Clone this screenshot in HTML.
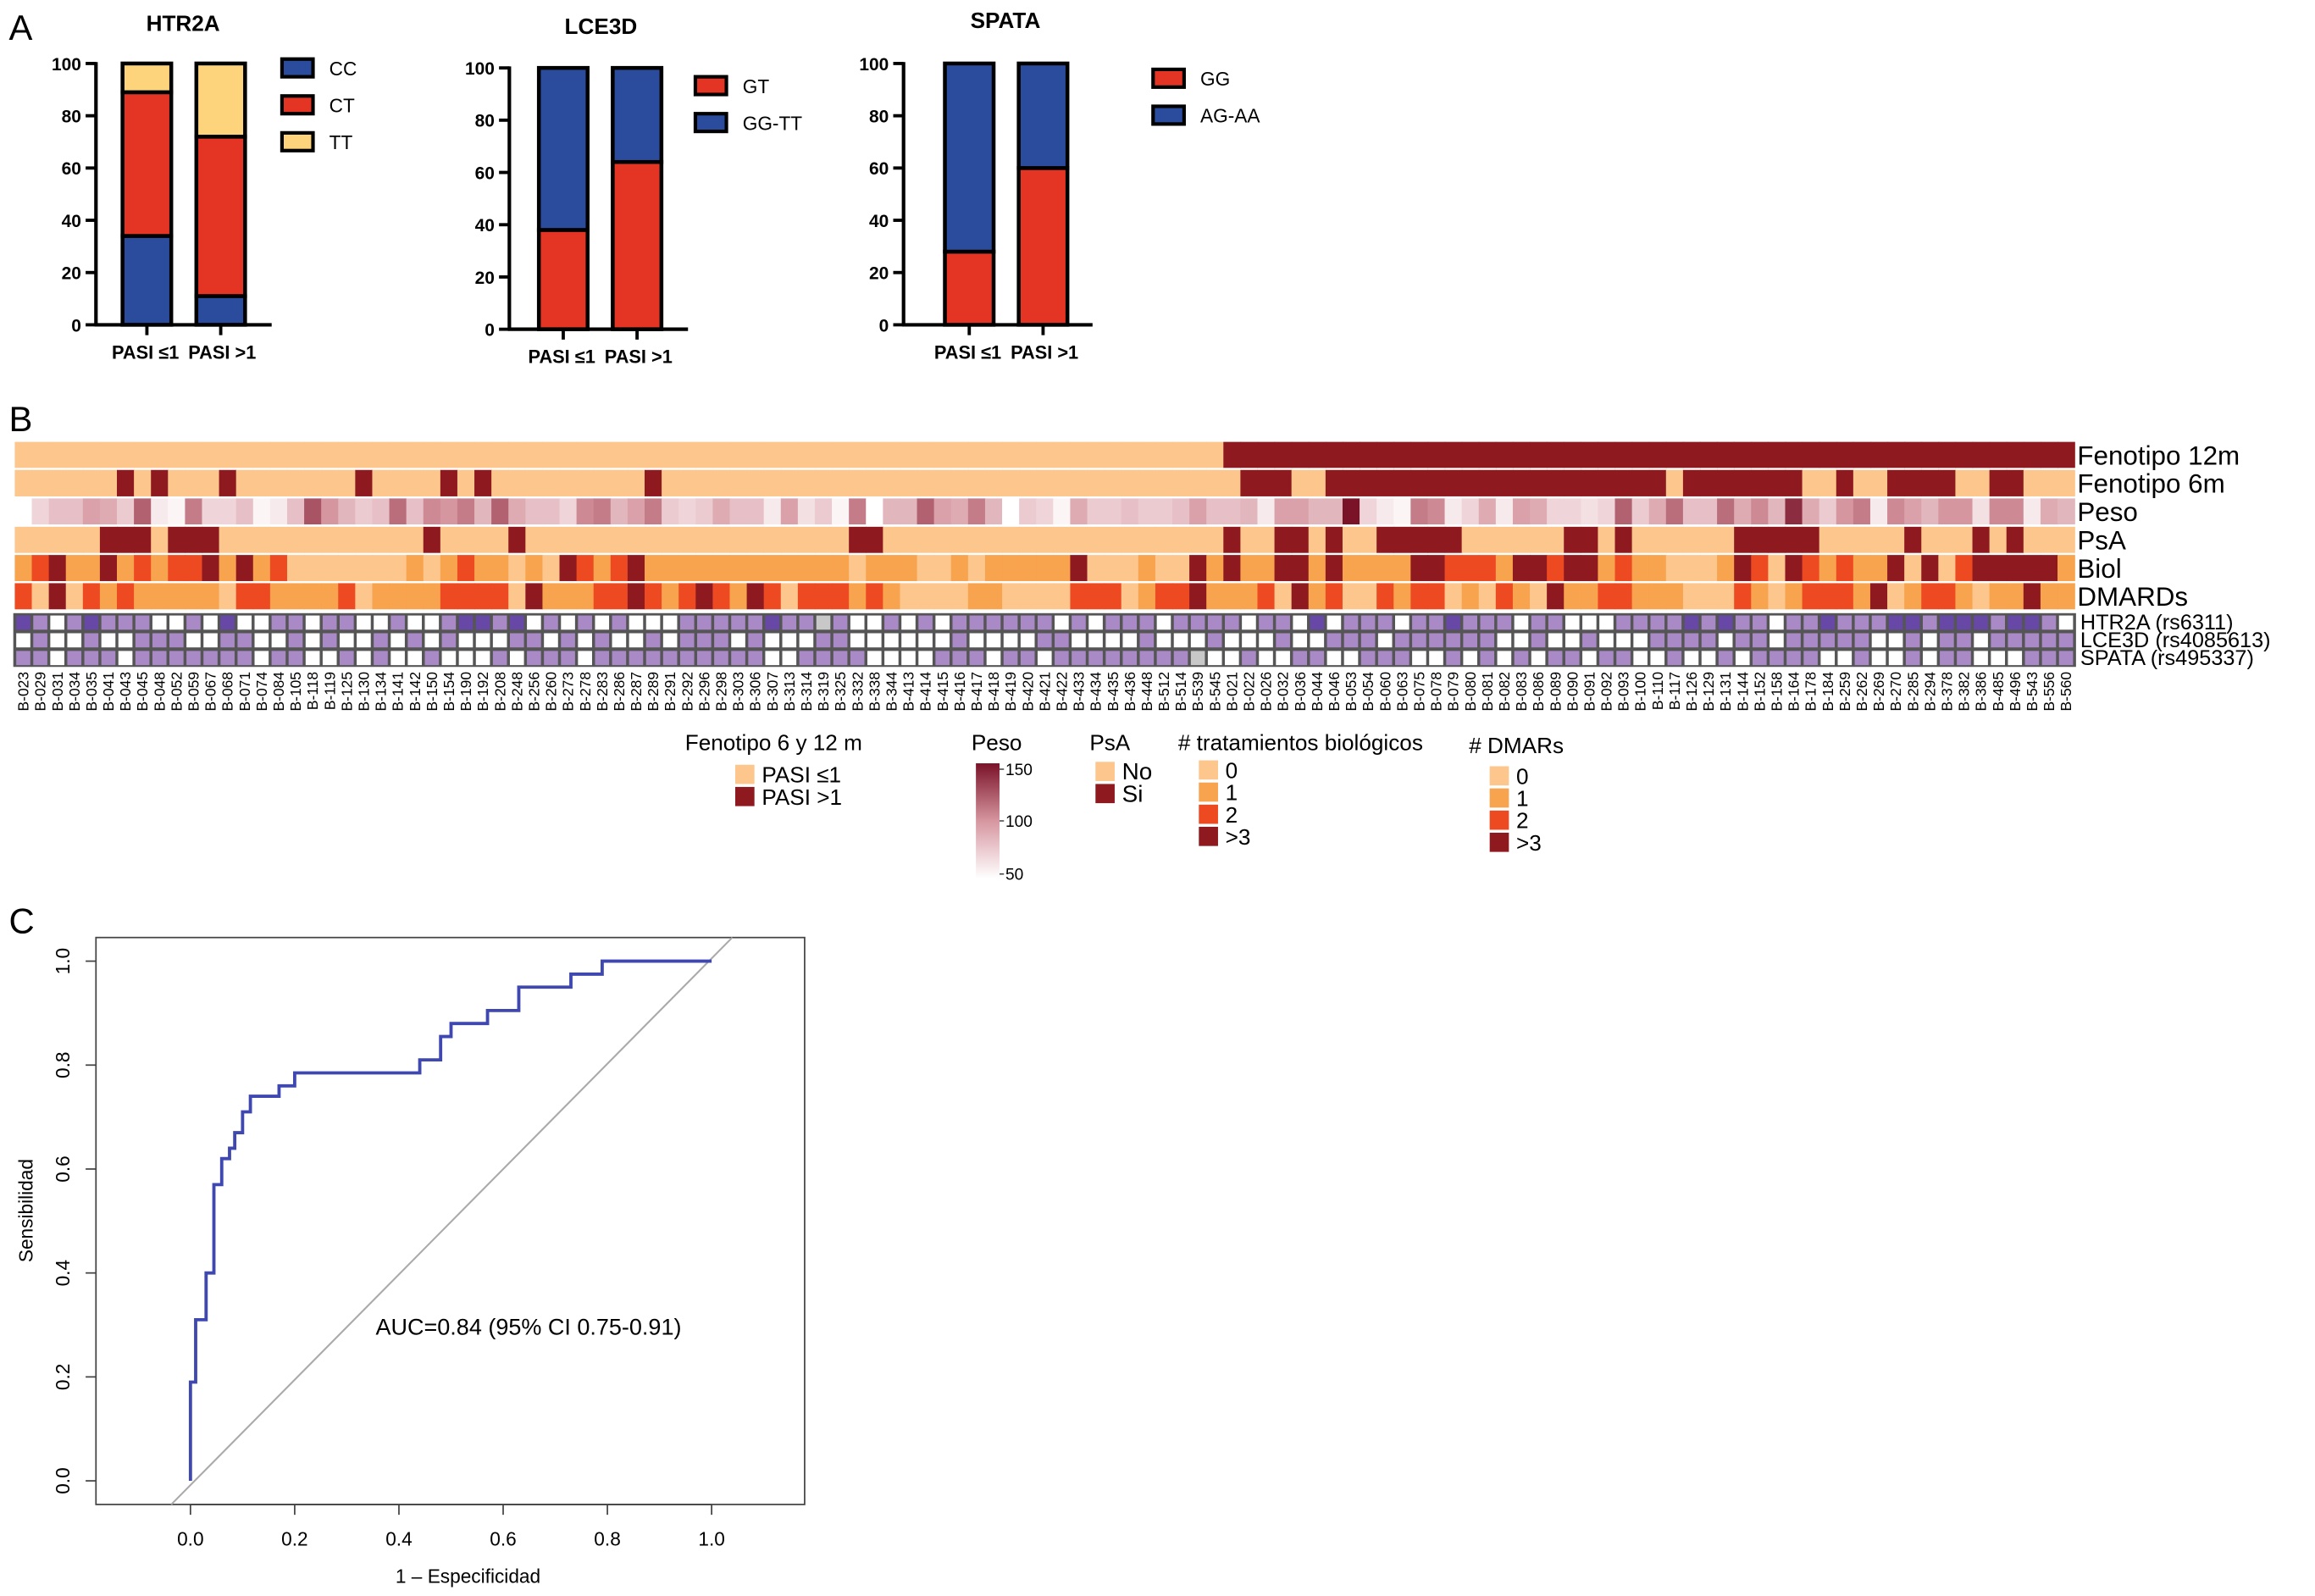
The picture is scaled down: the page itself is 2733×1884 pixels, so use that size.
<!DOCTYPE html>
<html><head><meta charset="utf-8"><style>
html,body{margin:0;padding:0;background:#fff}
svg{display:block}
text{font-family:"Liberation Sans",Arial,sans-serif}
</style></head><body>
<svg id="fig" xmlns="http://www.w3.org/2000/svg" width="2733" height="1884" viewBox="0 0 1568 1081" preserveAspectRatio="none">
<rect x="0" y="0" width="1568" height="1081" fill="#fff"/>
<text x="6" y="27" font-size="24">A</text>
<text x="6" y="292" font-size="24">B</text>
<text x="6" y="632" font-size="24">C</text>
</svg>
<script>
// ---------- Panel A data ----------
const groups = ['PASI ≤1','PASI >1'];
const htr2aCats = ['CC','CT','TT'];
const htr2aLow = [34,55,11];
const htr2aHigh = [11,61,28];
const lce3dCats = ['GT','GG-TT'];
const lce3dLow = [38,62];
const lce3dHigh = [64,36];
const spataCats = ['GG','AG-AA'];
const spataLow = [28,72];
const spataHigh = [60,40];
const yTicks = [0,20,40,60,80,100];

// ---------- Panel B data ----------
const samples = ['B-023','B-029','B-031','B-034','B-035','B-041','B-043','B-045','B-048','B-052','B-059','B-067','B-068','B-071','B-074','B-084','B-105','B-118','B-119','B-125','B-130','B-134','B-141','B-142','B-150','B-154','B-190','B-192','B-208','B-248','B-256','B-260','B-273','B-278','B-283','B-286','B-287','B-289','B-291','B-292','B-296','B-298','B-303','B-306','B-307','B-313','B-314','B-319','B-325','B-332','B-338','B-344','B-413','B-414','B-415','B-416','B-417','B-418','B-419','B-420','B-421','B-422','B-433','B-434','B-435','B-436','B-448','B-512','B-514','B-539','B-545','B-021','B-022','B-026','B-032','B-036','B-044','B-046','B-053','B-054','B-060','B-063','B-075','B-078','B-079','B-080','B-081','B-082','B-083','B-086','B-089','B-090','B-091','B-092','B-093','B-100','B-110','B-117','B-126','B-129','B-131','B-144','B-152','B-158','B-164','B-178','B-184','B-259','B-262','B-269','B-270','B-285','B-294','B-378','B-382','B-386','B-485','B-496','B-543','B-556','B-560'];
const fen12 = [0,0,0,0,0,0,0,0,0,0,0,0,0,0,0,0,0,0,0,0,0,0,0,0,0,0,0,0,0,0,0,0,0,0,0,0,0,0,0,0,0,0,0,0,0,0,0,0,0,0,0,0,0,0,0,0,0,0,0,0,0,0,0,0,0,0,0,0,0,0,0,1,1,1,1,1,1,1,1,1,1,1,1,1,1,1,1,1,1,1,1,1,1,1,1,1,1,1,1,1,1,1,1,1,1,1,1,1,1,1,1,1,1,1,1,1,1,1,1,1,1];
const fen6 = [0,0,0,0,0,0,1,0,1,0,0,0,1,0,0,0,0,0,0,0,1,0,0,0,0,1,0,1,0,0,0,0,0,0,0,0,0,1,0,0,0,0,0,0,0,0,0,0,0,0,0,0,0,0,0,0,0,0,0,0,0,0,0,0,0,0,0,0,0,0,0,0,1,1,1,0,0,1,1,1,1,1,1,1,1,1,1,1,1,1,1,1,1,1,1,1,1,0,1,1,1,1,1,1,1,0,0,1,0,0,1,1,1,1,0,0,1,1,0,0,0];
const peso = [50,70,80,80,95,90,75,120,60,55,110,70,70,80,55,60,80,125,100,85,75,80,115,80,105,100,110,85,120,90,80,80,70,105,110,85,95,110,75,70,75,90,80,80,60,95,65,75,55,110,50,85,85,120,95,90,110,85,50,75,70,55,90,75,75,80,75,75,80,95,80,80,85,60,95,95,85,85,150,70,60,55,110,105,60,70,90,60,95,90,70,70,65,70,120,75,90,115,80,80,115,90,105,85,140,90,75,100,110,60,105,95,85,100,100,65,105,105,60,90,85];
const psa = [0,0,0,0,0,1,1,1,0,1,1,1,0,0,0,0,0,0,0,0,0,0,0,0,1,0,0,0,0,1,0,0,0,0,0,0,0,0,0,0,0,0,0,0,0,0,0,0,0,1,1,0,0,0,0,0,0,0,0,0,0,0,0,0,0,0,0,0,0,0,0,1,0,0,1,1,0,1,0,0,1,1,1,1,1,0,0,0,0,0,0,1,1,0,1,0,0,0,0,0,0,1,1,1,1,1,0,0,0,0,0,1,0,0,0,1,0,1,0,0,0];
const biol = [1,2,3,1,1,3,1,2,1,2,2,3,1,3,1,2,0,0,0,0,0,0,0,1,0,1,2,1,1,0,1,0,3,2,1,2,3,1,1,1,1,1,1,1,1,1,1,1,1,0,1,1,1,0,0,1,0,1,1,1,1,1,3,0,0,0,1,0,0,3,1,3,1,1,3,3,1,3,1,1,1,1,3,3,2,2,2,1,3,3,2,3,3,1,2,1,1,0,0,0,1,3,2,0,3,2,1,2,1,1,3,0,3,0,2,3,3,3,3,3,1];
const dmards = [2,0,3,0,2,1,2,1,1,1,1,1,0,2,2,1,1,1,1,2,0,1,1,1,1,2,2,2,2,0,3,1,1,1,2,2,3,2,1,2,3,2,1,3,2,0,2,2,2,1,2,1,0,0,0,0,1,1,0,0,0,0,2,2,2,0,1,2,2,3,1,1,1,2,0,3,1,2,0,0,2,1,2,2,0,1,0,2,1,0,3,1,1,2,2,1,1,1,0,0,0,2,1,0,1,2,2,2,1,3,0,1,2,2,1,0,1,1,3,1,1];
const htr2a = [2,1,0,1,2,1,1,1,0,0,1,0,2,0,0,1,1,0,1,1,0,0,1,0,0,1,2,2,1,2,0,1,0,1,0,1,0,0,0,1,1,1,1,1,2,1,1,9,1,0,0,1,0,1,0,1,1,1,1,1,1,0,1,0,1,1,1,0,1,1,1,1,0,1,1,0,2,0,1,1,1,0,1,1,2,1,1,1,0,1,1,0,0,0,1,1,1,1,2,1,2,1,1,0,1,1,2,1,1,1,2,2,1,2,2,2,1,2,2,1,0];
const lce3d = [0,1,0,0,1,0,0,1,1,1,0,0,1,1,0,0,1,0,1,0,0,1,0,1,0,1,0,0,0,1,1,0,1,0,1,0,0,1,0,1,1,1,0,1,0,0,0,1,1,0,0,0,0,0,0,1,0,0,0,0,1,1,0,0,0,0,1,0,0,0,1,0,0,0,1,0,0,1,1,1,0,1,1,1,1,1,1,0,0,1,0,0,1,0,0,0,1,1,1,1,0,1,1,0,1,1,1,1,1,0,0,1,0,1,1,0,1,1,1,1,1];
const spata = [1,1,0,1,1,1,0,1,1,1,1,1,1,1,0,1,1,0,0,1,0,1,0,0,1,0,0,0,1,0,1,1,1,0,1,1,1,1,1,1,1,1,1,1,0,0,1,1,1,1,0,0,0,0,1,1,1,0,1,1,0,1,1,1,1,1,1,1,1,9,0,0,1,0,0,1,1,0,0,1,1,1,0,0,1,0,1,0,1,0,1,1,0,1,1,0,0,1,0,0,1,0,1,1,1,1,0,0,1,0,0,1,0,1,1,0,0,0,1,1,1];
const pesoTicks = [150,100,50];

// ---------- Panel C data ----------
const rocFpr = [0,0,0.01,0.01,0.03,0.03,0.045,0.045,0.06,0.06,0.075,0.075,0.085,0.085,0.1,0.1,0.115,0.115,0.17,0.17,0.2,0.2,0.44,0.44,0.48,0.48,0.5,0.5,0.57,0.57,0.63,0.63,0.73,0.73,0.79,0.79,1.0];
const rocTpr = [0,0.19,0.19,0.31,0.31,0.40,0.40,0.57,0.57,0.62,0.62,0.64,0.64,0.67,0.67,0.71,0.71,0.74,0.74,0.76,0.76,0.785,0.785,0.81,0.81,0.855,0.855,0.88,0.88,0.905,0.905,0.95,0.95,0.975,0.975,1.0,1.0];
const rocTicks = [0,0.2,0.4,0.6,0.8,1.0];

const NS = 'http://www.w3.org/2000/svg';
const svg = document.getElementById('fig');
function mk(tag, attrs, parent, txt){
  const e = document.createElementNS(NS, tag);
  for (const k in attrs) e.setAttribute(k, attrs[k]);
  if (txt !== undefined) e.textContent = txt;
  (parent || svg).appendChild(e);
  return e;
}
const BLUE='#2B4C9C', RED='#E43424', YEL='#FDD47C';

// ---------- Bar charts ----------
function barChart(cfg){
  const g = mk('g', {});
  
  
  const yS = v => cfg.y0 - (cfg.y0 - cfg.y100) * v / 100;
  const t = mk('text', {x: cfg.titleX, y: cfg.titleY, 'font-size': 15, 'font-weight': 'bold', 'text-anchor': 'middle'}, g, cfg.title);
  
  
  const data = [cfg.low, cfg.high];
  data.forEach((vals, bi) => {
    let acc = 0;
    const bx = cfg.barX[bi];
    vals.forEach((v, si) => {
      const r = mk('rect', {x: bx, y: yS(acc + v), width: cfg.barW, height: yS(acc) - yS(acc + v), fill: cfg.colors[si], stroke: '#000', 'stroke-width': 2.6}, g);
      
      
      acc += v;
    });
    mk('line', {x1: bx + cfg.barW / 2, x2: bx + cfg.barW / 2, y1: cfg.y0, y2: cfg.y0 + 7, stroke: '#000', 'stroke-width': 2.2}, g);
    const lb = mk('text', {x: bx + cfg.barW / 2 + (bi ? 1 : -1), y: cfg.y0 + 23, 'font-size': 12.5, 'font-weight': 'bold', 'text-anchor': 'middle'}, g, groups[bi]);
    
    
  });
  mk('line', {x1: cfg.axisX, x2: cfg.axisX, y1: cfg.y100 - 1, y2: cfg.y0 + 1, stroke: '#000', 'stroke-width': 2.4}, g);
  mk('line', {x1: cfg.axisX - 1, x2: cfg.xEnd, y1: cfg.y0, y2: cfg.y0, stroke: '#000', 'stroke-width': 2.4}, g);
  yTicks.forEach(v => {
    mk('line', {x1: cfg.axisX - 7, x2: cfg.axisX, y1: yS(v), y2: yS(v), stroke: '#000', 'stroke-width': 2.2}, g);
    const tl = mk('text', {x: cfg.axisX - 10, y: yS(v) + 4.5, 'font-size': 12, 'font-weight': 'bold', 'text-anchor': 'end'}, g, String(v));
    
    
  });
  cfg.cats.forEach((c, i) => {
    const ly = cfg.legY + i * 25;
    const sw = mk('rect', {x: cfg.legX, y: ly - 6, width: 21, height: 12, fill: cfg.colors[i], stroke: '#000', 'stroke-width': 2.4}, g);
    
    
    const lt = mk('text', {x: cfg.legX + 32, y: ly + 5, 'font-size': 13}, g, c);
    
    
  });
}
barChart({name:'htr2a', title:'HTR2A', titleX:124, titleY:21, axisX:65, y0:220, y100:43, barX:[83,133], barW:33, xEnd:184, cats:htr2aCats, low:htr2aLow, high:htr2aHigh, colors:[BLUE,RED,YEL], legX:191, legY:46});
barChart({name:'lce3d', title:'LCE3D', titleX:407, titleY:23, axisX:345, y0:223, y100:46, barX:[365,415], barW:33, xEnd:466, cats:lce3dCats, low:lce3dLow, high:lce3dHigh, colors:[RED,BLUE], legX:471, legY:58});
barChart({name:'spata', title:'SPATA', titleX:681, titleY:19, axisX:612, y0:220, y100:43, barX:[640,690], barW:33, xEnd:740, cats:spataCats, low:spataLow, high:spataHigh, colors:[RED,BLUE], legX:781, legY:53});

// ---------- Heatmap ----------
const HX0 = 10, CW = 11.53;
const PEACH='#FDC68C', DRED='#8E1A20', OR1='#F8A34E', OR2='#EE4A22';
const lvl4 = [PEACH, OR1, OR2, DRED];
const bin2 = [PEACH, DRED];
const gen = {0:'#FFFFFF', 1:'#A98AC7', 2:'#6848A6', 9:'#C8C8C8'};
function pesoColor(v){
  const t = Math.max(0, Math.min(1, (v - 50) / 100));
  const stops = [[255,255,255],[214,150,160],[122,18,40]];
  let a, b, u;
  if (t < 0.5){ a = stops[0]; b = stops[1]; u = t / 0.5; } else { a = stops[1]; b = stops[2]; u = (t - 0.5) / 0.5; }
  const c = a.map((x, i) => Math.round(x + (b[i] - x) * u));
  return 'rgb(' + c.join(',') + ')';
}
const hm = mk('g', {});


const rowsDef = [
  {name:'fenotipo-12m', label:'Fenotipo 12m', vals:fen12, col:v => bin2[v], y:299.3, h:17.6},
  {name:'fenotipo-6m', label:'Fenotipo 6m', vals:fen6, col:v => bin2[v], y:318.3, h:17.9},
  {name:'peso', label:'Peso', vals:peso, col:pesoColor, y:337.6, h:17.6},
  {name:'psa', label:'PsA', vals:psa, col:v => bin2[v], y:356.8, h:17.7},
  {name:'biol', label:'Biol', vals:biol, col:v => lvl4[v], y:375.9, h:17.7},
  {name:'dmards', label:'DMARDs', vals:dmards, col:v => lvl4[v], y:395.0, h:17.7}
];
rowsDef.forEach(r => {
  const g = mk('g', {}, hm);
  
  
  r.vals.forEach((v, i) => {
    const c = mk('rect', {x: HX0 + i * CW, y: r.y, width: CW + 0.4, height: r.h, fill: r.col(v)}, g);
    
    
  });
  const t = mk('text', {x: 1407, y: r.y + r.h / 2 + 6.5, 'font-size': 18}, g, r.label);
  
  
});
mk('rect', {x: HX0 - 1, y: 415.3, width: CW * samples.length + 2, height: 36.4, fill: '#555'}, hm);
const genRows = [
  {name:'htr2a-genotype', label:'HTR2A (rs6311)', vals:htr2a, y:416.3},
  {name:'lce3d-genotype', label:'LCE3D (rs4085613)', vals:lce3d, y:428.3},
  {name:'spata-genotype', label:'SPATA (rs495337)', vals:spata, y:440.3}
];
genRows.forEach(r => {
  const g = mk('g', {}, hm);
  
  
  r.vals.forEach((v, i) => {
    const c = mk('rect', {x: HX0 + i * CW + 1, y: r.y + 0.6, width: CW - 2, height: 9.6, fill: gen[v]}, g);
    
    
  });
  const t = mk('text', {x: 1409, y: r.y + 10, 'font-size': 14.5}, g, r.label);
  
  
});
samples.forEach((s, i) => {
  const cx = HX0 + i * CW + CW / 2 + 3.5;
  const t = mk('text', {x: cx, y: 455, 'font-size': 10, 'text-anchor': 'end', transform: 'rotate(-90 ' + cx + ' 455)'}, hm, s);
  
  
});

// ---------- Heatmap legends ----------
const lg = mk('g', {});


function legTitle(x, y, s){ const t = mk('text', {x:x, y:y, 'font-size':15}, lg, s);   }
function legItem(x, y, color, s, fs){
  const r = mk('rect', {x:x, y:y, width:13, height:13, fill:color}, lg);
  
  
  const t = mk('text', {x:x + 18, y:y + 12, 'font-size':fs || 15}, lg, s);
  
  
}
legTitle(464, 508, 'Fenotipo 6 y 12 m');
legItem(498, 518, PEACH, 'PASI ≤1');
legItem(498, 533, DRED, 'PASI >1');
legTitle(658, 508, 'Peso');
const defs = mk('defs', {});
const grad = mk('linearGradient', {id:'pg', x1:0, y1:1, x2:0, y2:0}, defs);
[50, 75, 100, 125, 150].forEach((v, i) => mk('stop', {offset: (i * 25) + '%', 'stop-color': pesoColor(v)}, grad));
const gb = mk('rect', {x:661, y:517, width:16, height:78, fill:'url(#pg)'}, lg);


pesoTicks.forEach(v => {
  const yy = 595 - (v - 50) / 100 * 78 + (v === 150 ? 4 : v === 50 ? -3 : 0);
  mk('line', {x1:677, x2:680, y1:yy, y2:yy, stroke:'#333', 'stroke-width':0.8}, lg);
  const t = mk('text', {x:681, y:yy + 4, 'font-size':11}, lg, String(v));
  
  
});
legTitle(738, 508, 'PsA');
legItem(742, 516, PEACH, 'No', 16);
legItem(742, 531, DRED, 'Si', 16);
legTitle(798, 508, '# tratamientos biológicos');
['0','1','2','>3'].forEach((s, i) => legItem(812, 515 + i * 15, lvl4[i], s));
legTitle(995, 510, '# DMARs');
['0','1','2','>3'].forEach((s, i) => legItem(1009, 519 + i * 15, lvl4[i], s));

// ---------- ROC ----------
const rg = mk('g', {});


const rx = v => 129 + 353 * v;
const ry = v => 1003 - 352 * v;
mk('rect', {x:65, y:635, width:480, height:384, fill:'none', stroke:'#444', 'stroke-width':1}, rg);
const diag = mk('line', {x1:116, y1:1019, x2:496, y2:635, stroke:'#aaa', 'stroke-width':1.2}, rg);


rocTicks.forEach(v => {
  mk('line', {x1:rx(v), x2:rx(v), y1:1019, y2:1026, stroke:'#444', 'stroke-width':1}, rg);
  const tx = mk('text', {x:rx(v), y:1047, 'font-size':13, 'text-anchor':'middle'}, rg, v.toFixed(1));
  
  
  mk('line', {x1:58, x2:65, y1:ry(v), y2:ry(v), stroke:'#444', 'stroke-width':1}, rg);
  const ty = mk('text', {x:47, y:ry(v), 'font-size':13, 'text-anchor':'middle', transform:'rotate(-90 47 ' + ry(v) + ')'}, rg, v.toFixed(1));
  
  
});
mk('line', {x1:rx(0), x2:rx(1), y1:1019, y2:1019, stroke:'#444', 'stroke-width':1}, rg);
const pts = rocFpr.map((f, i) => rx(f).toFixed(2) + ',' + ry(rocTpr[i]).toFixed(2)).join(' ');
const curve = mk('polyline', {points: pts, fill:'none', stroke:'#3F48B0', 'stroke-width':2.2}, rg);


const auc = mk('text', {x:358, y:904, 'font-size':15.5, 'text-anchor':'middle'}, rg, 'AUC=0.84 (95% CI 0.75-0.91)');


const xt = mk('text', {x:317, y:1072, 'font-size':13, 'text-anchor':'middle'}, rg, '1 – Especificidad');


const yt = mk('text', {x:22, y:820, 'font-size':13, 'text-anchor':'middle', transform:'rotate(-90 22 820)'}, rg, 'Sensibilidad');


</script>
</body></html>
